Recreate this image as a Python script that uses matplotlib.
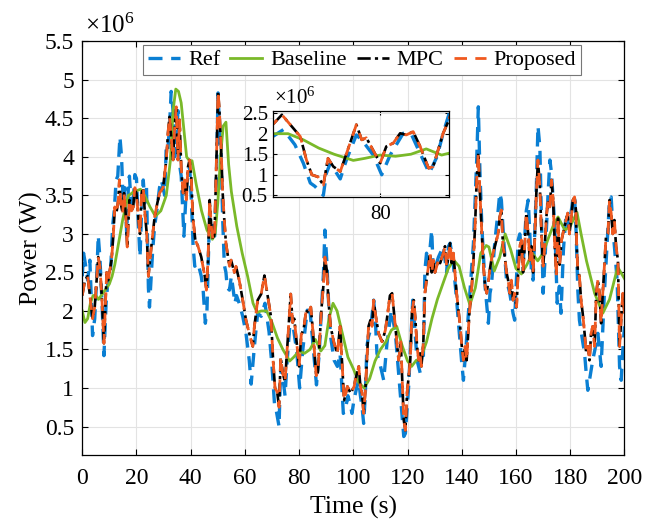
import numpy as np
import matplotlib
matplotlib.use('Agg')
import matplotlib.pyplot as plt
from matplotlib.ticker import FuncFormatter

plt.rcParams['font.family'] = ['Liberation Serif', 'DejaVu Serif']
plt.rcParams['mathtext.fontset'] = 'custom'
plt.rcParams['mathtext.rm'] = 'Liberation Serif'
plt.rcParams['mathtext.it'] = 'Liberation Serif:italic'

# (time s, power x1e6 W)
ref = [(0, 2.45), (0.5, 2.75), (1.2, 2.6), (2, 2.4), (2.8, 2.66), (3.3, 2.2), (3.8, 1.68), (4.6, 1.9),
       (5.3, 2.4), (5.9, 2.98), (6.5, 2.7), (7.3, 2.1), (8, 1.42), (8.8, 2.1), (9.6, 2.45), (10.5, 2.55),
       (11.2, 3.1), (11.8, 3.3), (12.5, 3.7), (13.1, 3.75), (13.9, 4.26), (14.5, 4.0), (15.1, 3.4),
       (15.7, 3.6), (16.4, 3.0), (17, 3.6), (17.4, 3.75), (18.2, 3.3), (18.8, 3.4), (19.4, 3.77),
       (20, 3.72), (20.6, 3.2), (21.3, 2.7), (21.9, 3.3), (22.5, 3.7), (23.1, 3.4), (23.7, 3.6),
       (24.4, 2.3), (24.8, 2.05), (25.5, 2.5), (26, 2.8), (26.7, 3.1), (27.5, 3.3), (28.5, 3.6),
       (29.2, 3.7), (30.4, 3.5), (31, 4.15), (31.6, 4.1), (32.2, 4.4), (32.8, 4.85), (33.5, 4.6),
       (34.1, 4.0), (34.7, 4.2), (35.3, 4.6), (35.9, 3.9), (36.5, 3.75), (37.5, 2.97), (38.4, 3.6),
       (39.6, 3.88), (40.3, 3.4), (40.9, 2.84), (41.5, 2.58), (42.7, 2.62), (43.9, 2.45), (44.6, 2.27),
       (45.4, 1.84), (46, 2.0), (47, 3.3), (47.6, 3.17), (48.8, 2.9), (49.5, 3.8), (50.1, 4.83),
       (50.7, 4.3), (51.2, 4.05), (51.8, 3.2), (52.4, 2.6), (53, 2.5), (53.5, 2.3), (54.3, 2.27),
       (55, 2.45), (55.6, 2.3), (56.3, 2.1), (56.9, 2.2), (57.9, 2.1), (59.2, 1.93), (60.4, 1.71),
       (61.6, 1.36), (62.3, 1.05), (63.5, 1.54), (64.7, 1.97), (66, 1.93), (67.4, 2.1), (68.9, 1.73),
       (70, 1.28), (70.9, 0.8), (71.5, 0.72), (72.6, 0.5), (73, 1.04), (73.5, 1.28), (74.8, 0.9),
       (75.6, 1.36), (76.9, 1.97), (77.8, 1.8), (79.1, 1.48), (80.2, 1.0), (81.3, 1.48), (83, 2.01),
       (84.1, 1.97), (85, 1.6), (86.4, 1.04), (87.4, 1.44), (88.2, 2.01), (89, 2.5), (89.5, 3.05),
       (90.2, 2.66), (91, 2.0), (91.6, 1.67), (92.9, 1.36), (94.1, 1.28), (95.1, 1.45), (96.3, 0.67),
       (97, 0.71), (98, 0.9), (99, 0.76), (99.5, 0.67), (100.2, 0.84), (101.2, 1.0), (102, 1.1),
       (102.6, 0.9), (103.2, 0.76), (103.8, 0.54), (104.4, 0.9), (105, 1.54), (105.6, 1.67),
       (106.3, 1.75), (107.5, 2.14), (108.1, 1.9), (108.7, 1.45), (109.9, 1.3), (111.2, 1.1),
       (112.4, 1.58), (114, 2.01), (115.5, 1.71), (117.3, 0.93), (118.6, 0.37), (119.2, 0.41),
       (120.4, 1.02), (121.9, 2.14), (123.5, 1.36), (124.7, 1.19), (125.3, 1.45), (125.8, 1.36),
       (126.4, 2.53), (127, 2.75), (127.7, 2.58), (128.9, 3.05), (129.5, 2.5), (130.5, 2.6),
       (131.4, 2.7), (133.2, 2.84), (134.4, 2.5), (135.1, 2.84), (135.7, 2.88), (136.9, 2.6),
       (138.1, 2.14), (139.9, 1.36), (140.6, 1.1), (141.2, 1.36), (142.8, 2.14), (144.3, 2.88),
       (145.5, 3.96), (146.1, 4.65), (146.7, 3.8), (147.4, 3.1), (148.6, 2.32), (149.8, 1.84),
       (150.4, 2.23), (150.9, 2.32), (152.2, 2.9), (153.4, 3.3), (154, 3.53), (154.6, 3.44),
       (155.5, 2.9), (156.5, 2.4), (157.7, 2.23), (158.9, 1.97), (159.5, 1.88), (160.8, 2.92),
       (161.4, 3.0), (162.6, 2.6), (163.8, 3.3), (164.5, 3.44), (165.1, 3.0), (165.7, 2.5),
       (166.3, 2.4), (167.5, 3.6), (168.1, 4.4), (168.8, 4.13), (169.4, 3.2), (170, 2.23),
       (170.6, 2.6), (171.8, 3.5), (172.5, 3.96), (173.1, 3.79), (174.3, 3.1), (175.2, 2.1),
       (176, 2.32), (176.6, 1.97), (177.5, 2.8), (178.5, 3.27), (179.5, 3.1), (181, 3.44),
       (181.6, 3.5), (182.2, 3.0), (182.8, 2.27), (183.4, 1.88), (184.6, 1.6), (185.3, 1.45),
       (185.9, 1.19), (186.5, 0.97), (187.1, 1.1), (188.3, 1.36), (189.6, 1.58), (190.2, 1.71),
       (190.8, 1.5), (191.4, 1.28), (192.6, 2.23), (193.8, 3.0), (194.5, 3.44), (195.1, 3.48),
       (195.7, 3.1), (196.3, 2.84), (197.3, 2.4), (198.2, 1.28), (198.8, 1.1), (199.4, 1.49),
       (200, 1.8)]

baseline = [(0, 2.0), (1, 1.85), (2, 1.9), (3, 2.1), (4, 2.2), (5, 2.2), (6, 2.15), (7, 2.2),
            (8, 2.25), (9, 2.3), (10, 2.35), (11, 2.45), (12, 2.6), (13, 2.8), (14, 3.0), (15, 3.2),
            (16, 3.35), (17, 3.5), (18, 3.52), (19, 3.55), (20, 3.56), (21.5, 3.58), (23, 3.5),
            (25, 3.35), (27, 3.23), (29, 3.3), (31, 3.5), (32.5, 3.95), (33.5, 4.6), (34.5, 4.88),
            (35.5, 4.85), (36.5, 4.7), (37.5, 4.35), (38.5, 4.0), (39.5, 3.95), (40.5, 3.95),
            (42, 3.65), (44, 3.3), (46, 3.05), (48, 2.93), (49, 3.0), (50, 3.4), (51, 4.0), (52, 4.4),
            (53, 4.45), (54, 3.9), (55, 3.55), (57, 3.1), (59, 2.75), (61, 2.45), (63, 2.1),
            (64.5, 1.98), (66, 2.0), (68, 2.0), (70, 1.85), (72, 1.65), (74, 1.5), (76.5, 1.35),
            (78, 1.4), (80, 1.48), (82, 1.45), (84, 1.5), (86, 1.63), (88, 1.48), (89.5, 1.55),
            (91, 1.9), (92.5, 2.1), (94, 2.0), (96, 1.7), (98, 1.4), (100, 1.25), (102, 1.07),
            (104, 1.0), (106, 1.12), (108, 1.35), (110, 1.5), (112, 1.6), (114, 1.75), (116, 1.8),
            (118, 1.55), (120, 1.35), (121.5, 1.28), (123, 1.35), (125, 1.4), (127, 1.6), (129, 1.9),
            (131, 2.15), (133, 2.35), (135, 2.55), (137, 2.66), (139, 2.58), (141, 2.3), (143, 2.08),
            (145, 2.3), (147, 2.75), (149, 2.85), (150, 2.83), (152, 2.52), (154, 2.7), (156, 3.0),
            (158, 2.8), (160, 2.55), (162, 2.48), (164, 2.6), (166, 2.75), (168, 2.65), (170, 2.75),
            (172, 2.95), (174, 3.13), (175.5, 3.22), (178, 3.05), (180, 3.1), (182.5, 3.28),
            (184, 3.0), (186, 2.65), (189, 2.23), (192, 1.97), (194.5, 2.15), (197.5, 2.57),
            (200, 2.42)]

mpc = [(0, 2.2), (1, 2.4), (2, 2.45), (3, 2.15), (3.8, 1.9), (4.6, 2.05), (5.9, 2.7), (6.5, 2.58),
       (7.2, 2.2), (8, 1.58), (9, 2.5), (9.6, 2.4), (10.8, 2.66), (11.45, 2.97), (12, 3.35),
       (12.6, 3.27), (13.3, 3.44), (13.7, 3.7), (14.2, 3.4), (14.9, 3.27), (15.4, 3.53), (16.1, 3.22),
       (16.6, 2.83), (17.4, 3.44), (18.2, 3.3), (18.8, 3.35), (19.4, 3.6), (20, 3.52), (20.7, 3.22),
       (21.3, 3.0), (21.9, 3.53), (22.5, 3.6), (23.1, 3.27), (23.8, 3.0), (24.4, 2.45), (25.5, 2.84),
       (26.7, 3.22), (27.7, 3.4), (28.5, 3.53), (29.8, 3.6), (31, 3.96), (31.6, 4.3), (32.2, 4.52),
       (32.8, 4.26), (33.5, 3.96), (34.1, 4.4), (34.7, 4.65), (35.3, 3.96), (35.9, 4.48), (36.5, 3.87),
       (37.2, 3.53), (37.8, 3.7), (38.4, 3.44), (39, 3.87), (39.6, 3.96), (40.2, 3.74), (40.8, 3.22),
       (41.7, 2.92), (42.7, 2.84), (43.9, 2.7), (45.2, 2.45), (45.8, 2.27), (46.4, 2.66), (47, 3.44),
       (47.6, 3.1), (48.2, 2.92), (48.8, 3.0), (49.5, 3.96), (50.1, 4.85), (50.6, 4.6), (51.2, 4.13),
       (51.8, 3.53), (52.4, 3.18), (53, 2.88), (54.3, 2.58), (54.9, 2.66), (56.1, 2.5), (56.7, 2.58),
       (57.9, 2.4), (59.2, 2.14), (60.4, 1.88), (61.6, 1.71), (62.9, 1.54), (63.5, 1.8), (64.7, 2.14),
       (66, 2.22), (67.2, 2.46), (69.6, 1.93), (70.4, 1.36), (71.1, 1.0), (71.9, 0.95), (72.6, 0.75),
       (73.2, 1.4), (73.9, 1.2), (74.8, 1.08), (75.4, 1.4), (76.9, 2.22), (77.6, 1.85), (78.2, 1.9),
       (80.0, 1.28), (80.8, 1.69), (81.7, 1.77), (82.6, 2.01), (83.4, 1.97), (84.3, 2.05), (85.2, 1.69),
       (86.3, 1.16), (86.9, 1.2), (88.2, 2.01), (89.0, 2.35), (89.5, 2.7), (90.2, 2.53), (90.8, 2.14),
       (91.6, 1.8), (92.9, 1.58), (94.1, 1.45), (95.1, 1.8), (96, 1.23), (96.6, 0.84), (97.8, 1.02),
       (99, 0.93), (100.3, 1.02), (100.7, 1.1), (102, 1.28), (102.6, 1.02), (103.2, 0.93),
       (103.8, 0.67), (104.4, 0.95), (105, 1.36), (105.6, 1.8), (106.3, 1.88), (106.9, 1.8),
       (107.5, 2.14), (108.1, 1.97), (109.3, 1.71), (110.6, 1.6), (111.8, 1.75), (112.6, 1.95),
       (113.5, 2.2), (114.3, 2.23), (115.2, 1.9), (116.7, 1.36), (117.5, 1.6), (118.6, 0.58),
       (119.2, 0.45), (119.8, 0.93), (121, 1.36), (121.6, 1.97), (122.3, 2.14), (122.9, 1.88),
       (123.5, 1.54), (124.1, 1.36), (124.6, 1.45), (125.1, 1.28), (125.8, 1.58), (126.4, 2.23),
       (127, 2.4), (127.7, 2.58), (128.3, 2.75), (128.9, 2.5), (129.5, 2.66), (130.1, 2.5),
       (131.4, 2.66), (132, 2.62), (133.2, 2.75), (133.8, 2.84), (134.4, 2.58), (135.1, 2.7),
       (135.7, 2.88), (136.3, 2.62), (136.9, 2.75), (138.1, 2.23), (139.4, 1.8), (140, 1.54),
       (140.6, 1.36), (141.2, 1.54), (141.8, 1.36), (142.8, 1.97), (143.7, 2.32), (144.3, 2.66),
       (144.9, 3.1), (145.5, 3.7), (146.1, 4.05), (146.7, 3.53), (147.4, 3.0), (148, 2.58),
       (148.6, 2.32), (149.2, 2.23), (150.4, 2.55), (150.9, 2.66), (152.2, 2.84), (153.4, 3.0),
       (154, 3.22), (154.6, 3.31), (155.2, 2.84), (155.9, 2.7), (156.5, 2.5), (157.1, 2.4),
       (157.7, 2.23), (158.3, 2.4), (158.9, 2.14), (159.5, 2.23), (160.2, 2.05), (160.8, 2.5),
       (161.4, 2.84), (162, 2.92), (162.6, 2.5), (163.2, 2.84), (163.8, 3.27), (164.5, 3.0),
       (165.1, 2.66), (165.7, 2.84), (166.3, 2.5), (166.9, 2.92), (167.5, 3.53), (168.1, 3.96),
       (168.8, 3.61), (169.4, 3.0), (170, 2.58), (170.6, 2.84), (171.2, 3.22), (171.8, 3.44),
       (172.5, 3.35), (173.1, 3.7), (173.7, 3.44), (174.3, 2.84), (174.9, 2.45), (175.5, 3.2),
       (176.1, 2.6), (176.8, 2.92), (177.9, 3.1), (179.1, 3.27), (179.7, 3.0), (180.3, 3.18),
       (181, 3.44), (181.6, 3.48), (182.1, 3.31), (182.4, 2.84), (182.8, 2.53), (183.4, 2.45),
       (184, 2.14), (184.6, 1.97), (185.3, 1.71), (185.9, 1.45), (186.5, 1.54), (187.1, 1.36),
       (187.7, 1.71), (188.3, 1.8), (189, 1.54), (189.6, 2.23), (190.2, 2.4), (190.8, 2.23),
       (191.4, 1.84), (192, 2.23), (192.6, 2.58), (193.2, 2.97), (193.9, 3.0), (194.5, 3.44),
       (195.1, 3.27), (195.7, 3.0), (196.3, 3.18), (196.9, 2.84), (197.6, 2.66), (198.2, 1.54),
       (198.8, 1.88), (199.4, 2.23), (200, 1.97)]

# proposed controller tracks MPC to within reading precision
proposed = list(mpc)

series = [
    ('Ref', ref, dict(color='#0A7FD3', lw=2.4, ls=(0, (4.2, 2.6)))),
    ('Baseline', baseline, dict(color='#7AB929', lw=2.0, ls='-')),
    ('MPC', mpc, dict(color='black', lw=1.9, ls=(0, (5, 1.6, 1.2, 1.6)))),
    ('Proposed', proposed, dict(color='#F0591F', lw=2.0, ls=(0, (4.5, 3.0)))),
]

fig = plt.figure(figsize=(6.58, 5.25), dpi=100)
ax = fig.add_axes([0.125, 0.1333, 0.824, 0.788])


def style_axes(a, size):
    a.tick_params(direction='in', top=True, right=True, labelsize=size, length=4, width=0.8)
    a.grid(True, color='#e3e3e3', lw=0.8)
    a.set_axisbelow(True)
    for s in a.spines.values():
        s.set_linewidth(0.9)
    a.yaxis.set_major_formatter(FuncFormatter(lambda v, p: '%g' % round(v, 2)))


for name, data, kw in series:
    t, p = np.array(data).T
    ax.plot(t, p, label=name, **kw)

ax.set_xlim(0, 200)
ax.set_ylim(0.13, 5.5)
ax.set_xticks(np.arange(0, 201, 20))
ax.set_yticks(np.arange(0.5, 5.51, 0.5))
style_axes(ax, 17)
ax.tick_params(axis='x', pad=9.5)
ax.tick_params(axis='y', pad=6)
ax.set_xlabel('Time (s)', fontsize=18.5, labelpad=5)
ax.set_ylabel('Power (W)', fontsize=18.5, labelpad=1)
ax.text(0.005, 1.008, r'$\times10^{6}$', transform=ax.transAxes, fontsize=18, va='bottom')

leg = ax.legend(loc='upper center', bbox_to_anchor=(0.516, 0.99), ncol=4, fontsize=16,
                frameon=True, fancybox=False, edgecolor='#777777', framealpha=1,
                handlelength=1.45, handletextpad=0.35, columnspacing=0.45, borderpad=0.2,
                borderaxespad=0)
leg.get_frame().set_linewidth(0.8)

# zoomed inset
ins = fig.add_axes([0.4144, 0.6248, 0.2684, 0.1644])
for name, data, kw in series:
    t, p = np.array(data).T
    ins.plot(t, p, **kw)
ins.set_xlim(66, 89)
ins.set_ylim(0.46, 2.56)
ins.set_xticks([80])
ins.set_yticks([0.5, 1, 1.5, 2, 2.5])
style_axes(ins, 15)
ins.tick_params(length=3)
ins.tick_params(axis='x', pad=6)
ins.text(0.01, 1.02, r'$\times10^{6}$', transform=ins.transAxes, fontsize=15, va='bottom')

fig.savefig('out.png', dpi=100)
